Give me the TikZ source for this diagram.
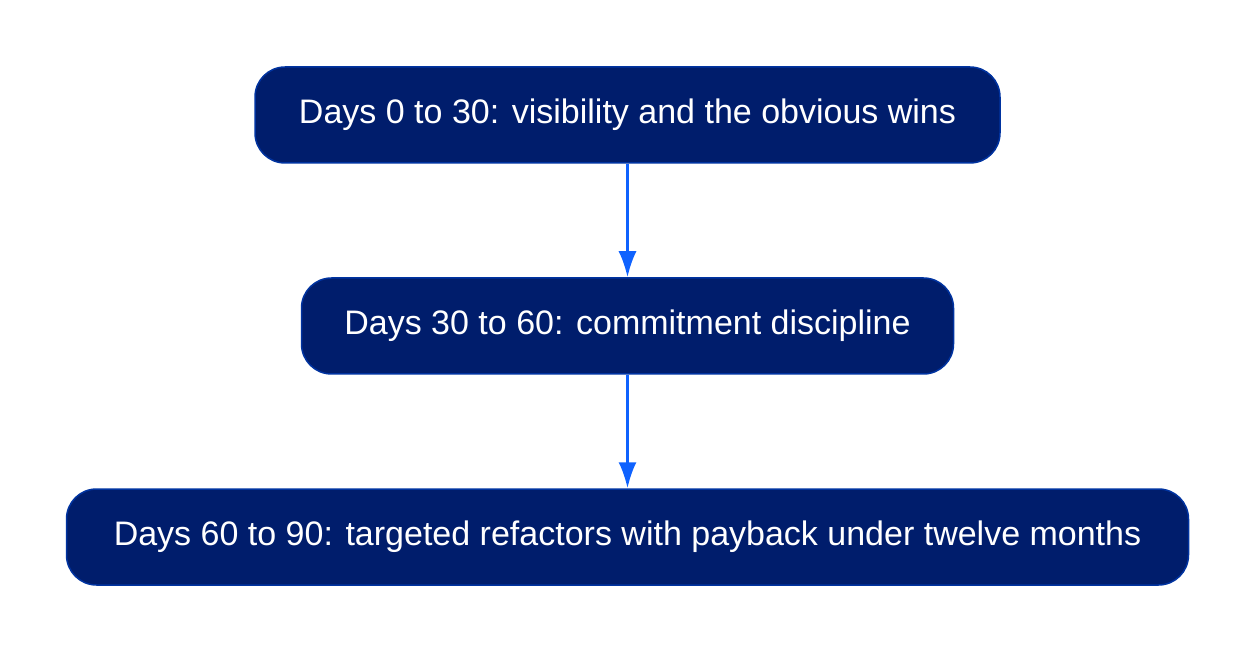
\documentclass[tikz,border=0pt]{standalone}
\usepackage{fontspec}
\setmainfont{Liberation Sans}
\usetikzlibrary{positioning,arrows.meta}
\definecolor{phasefill}{HTML}{001D6C}
\definecolor{phaseline}{HTML}{0033A0}
\definecolor{flowblue}{HTML}{0F62FE}
\tikzset{phase/.style={draw=phaseline, line width=1.5pt, fill=phasefill, text=white,
    rounded corners=30pt, minimum height=96pt, inner sep=0pt,
    font=\fontsize{34}{40}\selectfont},
  flow/.style={draw=flowblue, line width=2.6pt, -{Latex[length=26pt,width=18pt]}}}

\begin{document}
\begin{tikzpicture}
            \useasboundingbox (0,0) rectangle (1254pt,-652pt);
            % the three phases
            \node[phase, minimum width=745pt] (first) at (627.5pt,-115pt) {Days 0 to 30: visibility and the obvious wins};
            \node[phase, minimum width=652pt, below=113.5pt of first] (second) {Days 30 to 60: commitment discipline};
            \node[phase, minimum width=1122pt, below=113.5pt of second] (third) {Days 60 to 90: targeted refactors with payback under twelve months};
            \draw[flow] (first) -- (second);
            \draw[flow] (second) -- (third);
        \end{tikzpicture}
\end{document}
